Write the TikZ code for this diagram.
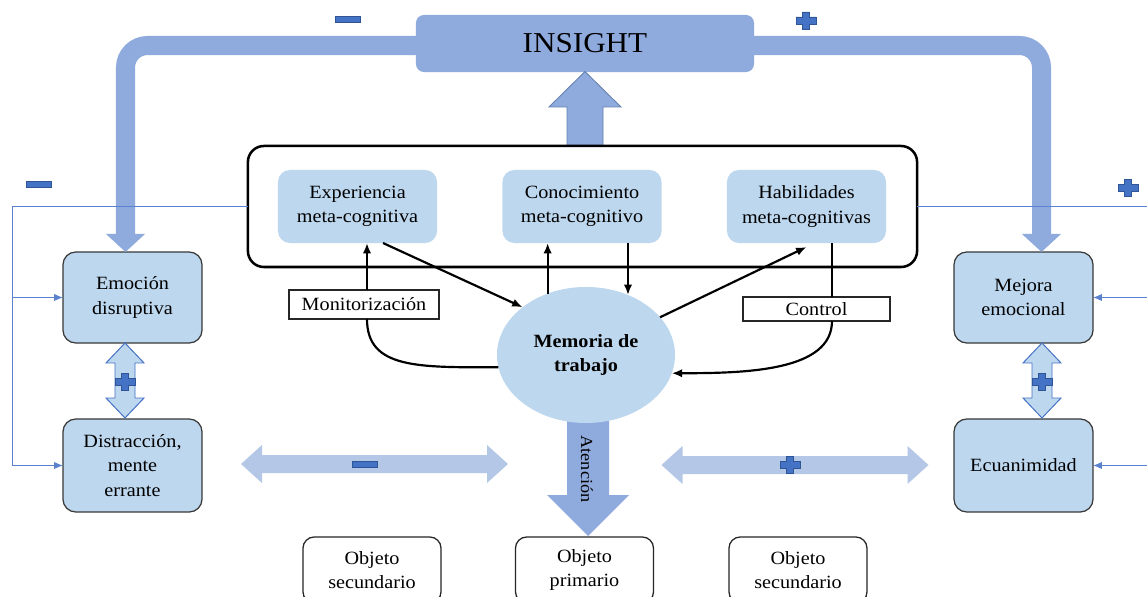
\documentclass[tikz,border=0pt]{standalone}
\usepackage{fontspec}
\setmainfont[FakeStretch=1.08]{Liberation Serif}
\usetikzlibrary{shapes.geometric,arrows.meta,calc}
\definecolor{bandblue}{HTML}{8FAADC}
\definecolor{paleblue}{HTML}{BDD7EE}
\definecolor{softblue}{HTML}{B4C7E7}
\definecolor{signblue}{HTML}{4472C4}
\definecolor{signedge}{HTML}{2F5597}
\definecolor{wireblue}{HTML}{5B82CE}
\definecolor{edgegray}{HTML}{3A3A3A}
\newcommand\bodyfont{\fontsize{13.3}{17.5}\selectfont}

\begin{document}
\begin{tikzpicture}[x=0.025cm,y=-0.025cm,
  every node/.style={inner sep=0pt, outer sep=0pt, align=center, font=\bodyfont},
  metabox/.style={fill=paleblue, rounded corners=0.3cm, minimum width=3.975cm, minimum height=1.825cm},
  sidebox/.style={fill=paleblue, draw=edgegray, line width=0.9pt, rounded corners=0.32cm, minimum width=3.475cm},
  objbox/.style={draw=black!85, line width=0.9pt, fill=white, rounded corners=0.28cm, minimum width=3.45cm, minimum height=1.65cm},
  tagbox/.style={draw=black!85, line width=0.9pt, fill=white},
  band/.style={draw=bandblue, line width=0.475cm, rounded corners=0.55cm, -{Triangle[length=0.45cm,width=0.95cm]}},
  link/.style={draw=black, line width=1.55pt},
  linkarr/.style={link, -{Latex[length=2.6mm,width=2.1mm]}},
  wire/.style={draw=wireblue, line width=0.65pt},
  wirearr/.style={wire, -{Latex[length=2.2mm,width=1.8mm]}},
  blockarr/.style={fill=bandblue, draw=signedge!75, line width=0.6pt},
  signstyle/.style={fill=signblue, draw=signedge, line width=0.5pt},
  plussign/.pic={\path[signstyle] (-3.5,-8.5)--(3.5,-8.5)--(3.5,-3.5)--(10,-3.5)--(10,3.5)--(3.5,3.5)--(3.5,8.5)--(-3.5,8.5)--(-3.5,3.5)--(-10,3.5)--(-10,-3.5)--(-3.5,-3.5)--cycle;},
  minussign/.pic={\path[signstyle] (-12.5,-3) rectangle (12.5,3);},
  vdouble/.pic={\path[fill=paleblue, draw=signblue, line width=0.7pt] (-10,-17.5)--(-19,-17.5)--(0,-37.5)--(19,-17.5)--(10,-17.5)--(10,17.5)--(19,17.5)--(0,37.5)--(-19,17.5)--(-10,17.5)--cycle;},
  hdouble/.pic={\path[fill=softblue] (-133.5,0)--(-112.5,-19)--(-112.5,-9)--(112.5,-9)--(112.5,-19)--(133.5,0)--(112.5,19)--(112.5,9)--(-112.5,9)--(-112.5,19)--cycle;}
]
\useasboundingbox (0,0) rectangle (1147,597);
\fill[white] (0,0) rectangle (1147,597);

% insight box and the up arrow feeding it
\node[fill=bandblue, rounded corners=0.2cm, minimum width=8.45cm, minimum height=1.425cm,
      font=\fontsize{20.5}{24}\selectfont] (insight) at (585,43.5) {INSIGHT};
\path[blockarr] (567,146)--(567,107)--(549,107)--(585,71.5)--(621,107)--(603,107)--(603,146)--cycle;

% metacognition frame
\node[draw=black, line width=1.8pt, rounded corners=0.4cm, minimum width=16.725cm, minimum height=3.025cm] (meta) at (582.5,206.5) {};
\node[metabox] (exp) at (357.5,206.5) {Experiencia\\meta-cognitiva};
\node[metabox] (con) at (582,206.5) {Conocimiento\\meta-cognitivo};
\node[metabox] (hab) at (806.5,206.5) {Habilidades\\meta-cognitivas};

% side boxes
\node[sidebox, minimum height=2.275cm] (emo) at (132.5,297.5) {Emoción\\disruptiva};
\node[sidebox, minimum height=2.325cm] (dis) at (132.5,465.5) {Distracción,\\mente\\errante};
\node[sidebox, minimum height=2.275cm] (mej) at (1023.5,297.5) {Mejora\\emocional};
\node[sidebox, minimum height=2.325cm] (ecu) at (1023.5,465.5) {Ecuanimidad};

% attention objects
\node[objbox] (obj1) at (372,570) {Objeto\\secundario};
\node[objbox] (obj2) at (584.5,570) {Objeto\\primario};
\node[objbox] (obj3) at (798,570) {Objeto\\secundario};

% attention arrow and working memory
\path[fill=bandblue] (567,418)--(609,418)--(609,495)--(629,495)--(588,536)--(547,495)--(567,495)--cycle;
\node[rotate=-90, font=\fontsize{12}{14}\selectfont] (aten) at (587,469) {Atención};
\node[ellipse, fill=paleblue, minimum width=4.45cm, minimum height=3.4cm, font=\bodyfont\bfseries] (mem) at (586,355) {Memoria de\\trabajo};

% process labels
\node[tagbox, minimum width=3.75cm, minimum height=0.725cm] (mon) at (364,304.5) {Monitorización};
\node[tagbox, minimum width=3.675cm, minimum height=0.6cm] (ctl) at (816.5,309) {Control};

% insight feedback bands
\coordinate (bl) at (125.5,45.5);
\coordinate (br) at (1041.5,45.5);
\draw[band] ($(insight.west)+(3,2)$) -- (bl) -- (bl |- emo.north);
\draw[band] ($(insight.east)+(-3,2)$) -- (br) -- (br |- mej.north);

% block arrows between states
\pic at (125,380.5) {vdouble};
\pic at (1042,380.5) {vdouble};
\pic at (374.5,464) {hdouble};
\pic at (795,465) {hdouble};

% signs
\pic at (348,19) {minussign};
\pic at (39,184.5) {minussign};
\pic at (806,20.5) {plussign};
\pic at (1128,188) {plussign};
\pic at (125,382) {plussign};
\pic at (1042,382) {plussign};
\pic at (364.5,464) {minussign};
\pic at (790,465) {plussign};

% metacognitive links
\coordinate (m1) at ($(mon.north)+(3,0)$);
\draw[linkarr] (m1) -- (m1 |- exp.south);
\draw[linkarr] ($(exp.south)+(25.5,0)$) -- (mem.143);
\draw[linkarr] (mem.122.6) -- (mem.122.6 |- con.south);
\draw[linkarr] (mem.55 |- con.south) -- (mem.55);
\draw[linkarr] (mem.27.5) -- ($(hab.south)+(0,4)$);
\coordinate (h1) at ($(hab.south)+(25.5,0)$);
\draw[link] (h1) -- (h1 |- ctl.north);
\draw[linkarr] (h1 |- ctl.south) .. controls +(0,50) and +(75,0) .. (mem.-12);
\draw[link] (m1 |- mon.south) .. controls +(0,50) and +(-80,0) .. (mem.188);

% thin feedback wires
\coordinate (lx) at (12,0);
\coordinate (rx) at (1147,0);
\draw[wire] (meta.west) -- (meta.west -| lx) -- (lx |- dis.west);
\draw[wirearr] (lx |- emo.west) -- (emo.west);
\draw[wirearr] (lx |- dis.west) -- (dis.west);
\draw[wire] (meta.east) -- (meta.east -| rx);
\draw[wirearr] (rx |- mej.east) -- (mej.east);
\draw[wirearr] (rx |- ecu.east) -- (ecu.east);
\end{tikzpicture}
\end{document}
